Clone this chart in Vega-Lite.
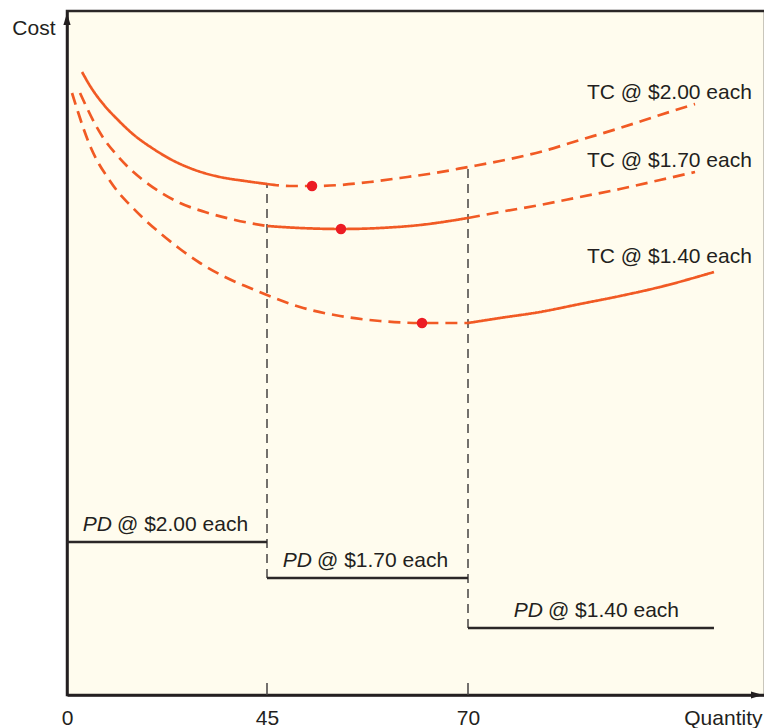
{
  "$schema": "https://vega.github.io/schema/vega-lite/v6.json",
  "width": 698,
  "height": 684,
  "autosize": {"type": "none"},
  "padding": {"left": 67, "top": 11, "right": 0, "bottom": 33},
  "background": "#ffffff",
  "config": {
    "view": {"fill": "#fffcee", "stroke": "#2b2727", "strokeWidth": 2.5},
    "font": "Liberation Sans",
    "text": {"font": "Liberation Sans", "color": "#231f20"}
  },
  "datasets": {
    "curves": [
      {"seg": "tc200-a", "style": "solid", "q": 3.38, "cost": 623},
      {"seg": "tc200-a", "style": "solid", "q": 5.63, "cost": 606},
      {"seg": "tc200-a", "style": "solid", "q": 8.33, "cost": 590},
      {"seg": "tc200-a", "style": "solid", "q": 11.48, "cost": 575},
      {"seg": "tc200-a", "style": "solid", "q": 15.08, "cost": 560},
      {"seg": "tc200-a", "style": "solid", "q": 19.13, "cost": 547},
      {"seg": "tc200-a", "style": "solid", "q": 23.63, "cost": 535},
      {"seg": "tc200-a", "style": "solid", "q": 28.8, "cost": 525},
      {"seg": "tc200-a", "style": "solid", "q": 34.43, "cost": 518},
      {"seg": "tc200-a", "style": "solid", "q": 40.05, "cost": 514},
      {"seg": "tc200-a", "style": "solid", "q": 45, "cost": 511},
      {"seg": "tc200-b", "style": "dashed", "q": 45, "cost": 511},
      {"seg": "tc200-b", "style": "dashed", "q": 47.86, "cost": 509},
      {"seg": "tc200-b", "style": "dashed", "q": 50.6, "cost": 509},
      {"seg": "tc200-b", "style": "dashed", "q": 54.08, "cost": 510},
      {"seg": "tc200-b", "style": "dashed", "q": 57.81, "cost": 513},
      {"seg": "tc200-b", "style": "dashed", "q": 61.54, "cost": 517},
      {"seg": "tc200-b", "style": "dashed", "q": 65.9, "cost": 522},
      {"seg": "tc200-b", "style": "dashed", "q": 70, "cost": 528},
      {"seg": "tc200-b", "style": "dashed", "q": 73.24, "cost": 534},
      {"seg": "tc200-b", "style": "dashed", "q": 77.3, "cost": 543},
      {"seg": "tc200-b", "style": "dashed", "q": 81.35, "cost": 555},
      {"seg": "tc200-b", "style": "dashed", "q": 85.41, "cost": 567},
      {"seg": "tc200-b", "style": "dashed", "q": 89.46, "cost": 580},
      {"seg": "tc200-b", "style": "dashed", "q": 93.01, "cost": 591},

      {"seg": "tc170-a", "style": "dashed", "q": 2.93, "cost": 602},
      {"seg": "tc170-a", "style": "dashed", "q": 4.5, "cost": 587},
      {"seg": "tc170-a", "style": "dashed", "q": 6.3, "cost": 571},
      {"seg": "tc170-a", "style": "dashed", "q": 8.33, "cost": 556},
      {"seg": "tc170-a", "style": "dashed", "q": 10.8, "cost": 542},
      {"seg": "tc170-a", "style": "dashed", "q": 13.73, "cost": 528},
      {"seg": "tc170-a", "style": "dashed", "q": 17.1, "cost": 515},
      {"seg": "tc170-a", "style": "dashed", "q": 20.93, "cost": 503},
      {"seg": "tc170-a", "style": "dashed", "q": 25.43, "cost": 492},
      {"seg": "tc170-a", "style": "dashed", "q": 31.05, "cost": 483},
      {"seg": "tc170-a", "style": "dashed", "q": 37.8, "cost": 475},
      {"seg": "tc170-a", "style": "dashed", "q": 45, "cost": 469},
      {"seg": "tc170-b", "style": "solid", "q": 45, "cost": 469},
      {"seg": "tc170-b", "style": "solid", "q": 49.1, "cost": 467},
      {"seg": "tc170-b", "style": "solid", "q": 54.2, "cost": 466},
      {"seg": "tc170-b", "style": "solid", "q": 59.05, "cost": 467},
      {"seg": "tc170-b", "style": "solid", "q": 64.03, "cost": 470},
      {"seg": "tc170-b", "style": "solid", "q": 70, "cost": 477},
      {"seg": "tc170-c", "style": "dashed", "q": 70, "cost": 477},
      {"seg": "tc170-c", "style": "dashed", "q": 73.24, "cost": 483},
      {"seg": "tc170-c", "style": "dashed", "q": 77.3, "cost": 490},
      {"seg": "tc170-c", "style": "dashed", "q": 81.35, "cost": 498},
      {"seg": "tc170-c", "style": "dashed", "q": 85.41, "cost": 506},
      {"seg": "tc170-c", "style": "dashed", "q": 89.46, "cost": 515},
      {"seg": "tc170-c", "style": "dashed", "q": 93.01, "cost": 523},

      {"seg": "tc140-a", "style": "dashed", "q": 1.13, "cost": 602},
      {"seg": "tc140-a", "style": "dashed", "q": 2.48, "cost": 583},
      {"seg": "tc140-a", "style": "dashed", "q": 3.83, "cost": 565},
      {"seg": "tc140-a", "style": "dashed", "q": 5.4, "cost": 547},
      {"seg": "tc140-a", "style": "dashed", "q": 7.2, "cost": 531},
      {"seg": "tc140-a", "style": "dashed", "q": 9.23, "cost": 517},
      {"seg": "tc140-a", "style": "dashed", "q": 11.48, "cost": 503},
      {"seg": "tc140-a", "style": "dashed", "q": 14.18, "cost": 490},
      {"seg": "tc140-a", "style": "dashed", "q": 17.1, "cost": 477},
      {"seg": "tc140-a", "style": "dashed", "q": 20.93, "cost": 462},
      {"seg": "tc140-a", "style": "dashed", "q": 25.43, "cost": 446},
      {"seg": "tc140-a", "style": "dashed", "q": 29.93, "cost": 432},
      {"seg": "tc140-a", "style": "dashed", "q": 35.55, "cost": 418},
      {"seg": "tc140-a", "style": "dashed", "q": 41.18, "cost": 407},
      {"seg": "tc140-a", "style": "dashed", "q": 45, "cost": 400},
      {"seg": "tc140-a", "style": "dashed", "q": 49.1, "cost": 388},
      {"seg": "tc140-a", "style": "dashed", "q": 54.08, "cost": 379},
      {"seg": "tc140-a", "style": "dashed", "q": 59.05, "cost": 374},
      {"seg": "tc140-a", "style": "dashed", "q": 64.28, "cost": 372},
      {"seg": "tc140-a", "style": "dashed", "q": 70, "cost": 372},
      {"seg": "tc140-b", "style": "solid", "q": 70, "cost": 372},
      {"seg": "tc140-b", "style": "solid", "q": 73.24, "cost": 377},
      {"seg": "tc140-b", "style": "solid", "q": 77.3, "cost": 383},
      {"seg": "tc140-b", "style": "solid", "q": 81.35, "cost": 391},
      {"seg": "tc140-b", "style": "solid", "q": 85.41, "cost": 399},
      {"seg": "tc140-b", "style": "solid", "q": 89.46, "cost": 408},
      {"seg": "tc140-b", "style": "solid", "q": 94.93, "cost": 423}
    ],
    "minima": [
      {"curve": "TC @ $2.00 each", "q": 50.6, "cost": 509},
      {"curve": "TC @ $1.70 each", "q": 54.2, "cost": 466},
      {"curve": "TC @ $1.40 each", "q": 64.28, "cost": 372}
    ],
    "tcLabels": [
      {"text": "TC @ $2.00 each", "q": 82.06, "cost": 596},
      {"text": "TC @ $1.70 each", "q": 82.06, "cost": 528},
      {"text": "TC @ $1.40 each", "q": 82.06, "cost": 432}
    ],
    "purchase": [
      {"price": "$2.00", "q": 0, "q2": 45, "cost": 153, "lq": 10.69, "rest": "@ $2.00 each"},
      {"price": "$1.70", "q": 45, "q2": 70, "cost": 117, "lq": 50.91, "rest": "@ $1.70 each"},
      {"price": "$1.40", "q": 70, "q2": 94.93, "cost": 67, "lq": 77.85, "rest": "@ $1.40 each"}
    ],
    "breaks": [
      {"q": 45, "c0": 117, "c1": 511},
      {"q": 70, "c0": 67, "c1": 528}
    ],
    "ticks": [
      {"q": 45, "c0": 0, "c1": 12},
      {"q": 70, "c0": 0, "c1": 12}
    ],
    "arrows": [
      {"dir": "up", "q": 0, "cost": 676},
      {"dir": "right", "q": 99.29, "cost": 0}
    ]
  },
  "layer": [
    {
      "data": {"name": "breaks"},
      "mark": {"type": "rule", "color": "#454242", "strokeWidth": 1.5, "strokeDash": [9, 6]},
      "encoding": {
        "x": {
          "field": "q", "type": "quantitative",
          "scale": {"domain": [0, 45, 70, 100], "range": [0, 200, 401, 697], "nice": false, "zero": false},
          "axis": {
            "values": [0, 45, 70], "ticks": false, "tickSize": 0, "grid": false,
            "domainColor": "#231f20", "domainWidth": 2.5,
            "labelFont": "Liberation Sans", "labelFontSize": 21, "labelColor": "#231f20",
            "labelPadding": 12, "labelFlush": false,
            "title": "Quantity", "titleFont": "Liberation Sans", "titleFontSize": 21,
            "titleFontWeight": "normal", "titleColor": "#231f20",
            "titleAnchor": "end", "titleAlign": "right", "titleBaseline": "alphabetic",
            "titleX": 695, "titleY": 29
          }
        },
        "y": {
          "field": "c0", "type": "quantitative",
          "scale": {"domain": [0, 684], "nice": false, "zero": true},
          "axis": {
            "labels": false, "ticks": false, "grid": false,
            "domainColor": "#231f20", "domainWidth": 2.5,
            "title": "Cost", "titleFont": "Liberation Sans", "titleFontSize": 21,
            "titleFontWeight": "normal", "titleColor": "#231f20", "titleAngle": 0,
            "titleAlign": "right", "titleBaseline": "middle", "titleX": -12, "titleY": 17
          }
        },
        "y2": {"field": "c1"}
      }
    },
    {
      "data": {"name": "ticks"},
      "mark": {"type": "rule", "color": "#454242", "strokeWidth": 1.5},
      "encoding": {
        "x": {"field": "q", "type": "quantitative"},
        "y": {"field": "c0", "type": "quantitative"},
        "y2": {"field": "c1"}
      }
    },
    {
      "data": {"name": "purchase"},
      "mark": {"type": "rule", "color": "#2b2727", "strokeWidth": 2.6},
      "encoding": {
        "x": {"field": "q", "type": "quantitative"},
        "x2": {"field": "q2"},
        "y": {"field": "cost", "type": "quantitative"}
      }
    },
    {
      "data": {"name": "purchase"},
      "mark": {"type": "text", "align": "right", "baseline": "alphabetic", "dx": -2.5, "dy": -11, "fontSize": 21, "fontStyle": "italic"},
      "encoding": {
        "x": {"field": "lq", "type": "quantitative"},
        "y": {"field": "cost", "type": "quantitative"},
        "text": {"value": "PD"}
      }
    },
    {
      "data": {"name": "purchase"},
      "mark": {"type": "text", "align": "left", "baseline": "alphabetic", "dx": 2.5, "dy": -11, "fontSize": 21},
      "encoding": {
        "x": {"field": "lq", "type": "quantitative"},
        "y": {"field": "cost", "type": "quantitative"},
        "text": {"field": "rest"}
      }
    },
    {
      "data": {"name": "curves"},
      "mark": {"type": "line", "color": "#f15a24", "strokeWidth": 2.7, "interpolate": "monotone"},
      "encoding": {
        "x": {"field": "q", "type": "quantitative"},
        "y": {"field": "cost", "type": "quantitative"},
        "detail": {"field": "seg"},
        "strokeDash": {
          "field": "style", "type": "nominal",
          "scale": {"domain": ["solid", "dashed"], "range": [[1, 0], [12, 7]]},
          "legend": null
        }
      }
    },
    {
      "data": {"name": "minima"},
      "mark": {"type": "point", "filled": true, "color": "#ec1c24", "opacity": 1, "size": 110},
      "encoding": {
        "x": {"field": "q", "type": "quantitative"},
        "y": {"field": "cost", "type": "quantitative"}
      }
    },
    {
      "data": {"name": "tcLabels"},
      "mark": {"type": "text", "align": "left", "baseline": "alphabetic", "fontSize": 21},
      "encoding": {
        "x": {"field": "q", "type": "quantitative"},
        "y": {"field": "cost", "type": "quantitative"},
        "text": {"field": "text"}
      }
    },
    {
      "data": {"name": "arrows"},
      "mark": {"type": "point", "filled": true, "color": "#231f20", "opacity": 1, "size": 144, "strokeWidth": 0},
      "encoding": {
        "x": {"field": "q", "type": "quantitative"},
        "y": {"field": "cost", "type": "quantitative"},
        "shape": {
          "field": "dir", "type": "nominal",
          "scale": {"domain": ["up", "right"], "range": ["M0,-1L0.6,1L-0.6,1Z", "M1,0L-1,-0.6L-1,0.6Z"]},
          "legend": null
        }
      }
    }
  ]
}
